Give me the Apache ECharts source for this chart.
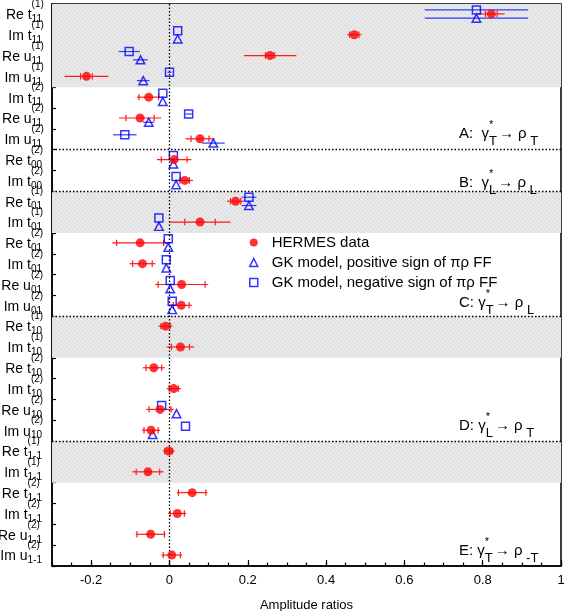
<!DOCTYPE html>
<html><head><meta charset="utf-8">
<script src="https://cdn.jsdelivr.net/npm/echarts@6/dist/echarts.min.js"></script>
<style>html,body{margin:0;padding:0;background:#fff}#c{width:568px;height:611px}</style>
</head><body><div id="c"></div>
<script>
// ---- row labels (top to bottom) ----
const rowMain = ['Re t','Im t','Re u','Im u','Im t','Re u','Im u','Re t','Im t','Re t','Im t','Re t','Im t','Re u','Im u','Re t','Im t','Re t','Im t','Re u','Im u','Re t','Im t','Re t','Im t','Re u','Im u'];
const rowSup  = ['(1)','(1)','(1)','(1)','(2)','(2)','(2)','(2)','(2)','(1)','(1)','(2)','(2)','(2)','(2)','(1)','(1)','(2)','(2)','(2)','(2)','(1)','(1)','(2)','(2)','(2)','(2)'];
const rowSub  = ['11','11','11','11','11','11','11','00','00','01','01','01','01','01','01','10','10','10','10','10','10','1-1','1-1','1-1','1-1','1-1','1-1'];
const categories = rowMain.map((m,i)=>m+rowSub[i]+rowSup[i]);

// ---- HERMES data: value, statistical error, total error ----
const hermesValue = [0.822,0.472,0.257,-0.212,-0.053,-0.075,0.078,0.012,0.039,0.169,0.078,-0.075,-0.069,0.031,0.030,-0.010,0.028,-0.040,0.011,-0.024,-0.047,-0.002,-0.055,0.058,0.020,-0.048,0.006];
const hermesStat  = [0.015,0.012,0.012,0.015,0.025,0.036,0.023,0.033,0.012,0.013,0.039,0.060,0.025,0.060,0.020,0.012,0.023,0.020,0.012,0.028,0.018,0.010,0.030,0.035,0.018,0.035,0.022];
const hermesTotal = [0.034,0.018,0.067,0.056,0.030,0.054,0.037,0.044,0.021,0.022,0.078,0.071,0.033,0.068,0.027,0.018,0.035,0.028,0.018,0.035,0.023,0.015,0.040,0.039,0.023,0.038,0.026];

// ---- GK model, positive sign of pi-rho FF ----
const gkPosValue = [0.784,0.021,-0.074,-0.067,-0.017,-0.053,0.112,0.010,0.017,0.203,-0.027,-0.003,-0.008,0.002,0.007,null,null,null,null,0.018,-0.043,null,null,null,null,null,null];
const gkPosError = [0.132,0,0.019,0.016,0,0.014,0.029,0,0,0.019,0,0,0,0,0,0,0,0,0,0,0,0,0,0,0,0,0];
// ---- GK model, negative sign of pi-rho FF ----
const gkNegValue = [0.784,0.021,-0.103,0.000,-0.017,0.049,-0.114,0.010,0.017,0.203,-0.027,-0.003,-0.008,0.002,0.007,null,null,null,null,-0.020,0.041,null,null,null,null,null,null];
const gkNegError = [0.132,0,0.027,0.005,0,0.008,0.030,0,0,0.019,0,0,0,0,0,0,0,0,0,0,0,0,0,0,0,0,0];

// ---- structure ----
const shadedRows = [[0,4],[9,11],[15,17],[21,23]];
const sectionBreaks = [7,9,15,21];
const xTicksMajor = [-0.2,0,0.2,0.4,0.6,0.8,1];

const FONT = 'Liberation Sans, Arial, Helvetica, sans-serif';
const NROWS = categories.length;
const GRID = {left:52, right:7, top:4, bottom:45};
const rowPx = (611 - GRID.top - GRID.bottom) / NROWS;
const OFF = {hermes:-0.5, pos:3.8, neg:-4.5}; // pixel offsets within a row

function yPos(i, off){ return i + 0.5 + off / rowPx; }

const hermesPts = hermesValue.map((v,i)=>[v, yPos(i,OFF.hermes)]);
const posPts = []; const negPts = [];
gkPosValue.forEach((v,i)=>{ if(v!==null) posPts.push([v, yPos(i,OFF.pos)]); });
gkNegValue.forEach((v,i)=>{ if(v!==null) negPts.push([v, yPos(i,OFF.neg)]); });

const hermesErr = hermesValue.map((v,i)=>[v, yPos(i,OFF.hermes), v-hermesTotal[i], v+hermesTotal[i], v-hermesStat[i], v+hermesStat[i]]);
const modelErr = [];
gkPosValue.forEach((v,i)=>{ if(v!==null && gkPosError[i]>0) modelErr.push([v, yPos(i,OFF.pos), v-gkPosError[i], v+gkPosError[i]]); });
gkNegValue.forEach((v,i)=>{ if(v!==null && gkNegError[i]>0) modelErr.push([v, yPos(i,OFF.neg), v-gkNegError[i], v+gkNegError[i]]); });

function errRender(color, ticks){
  return function(params, api){
    const y = api.value(1);
    const a = api.coord([api.value(2), y]);
    const b = api.coord([api.value(3), y]);
    const ch = [{type:'line', shape:{x1:a[0],y1:a[1],x2:b[0],y2:b[1]}, style:{stroke:color, lineWidth:1.2}}];
    if (ticks){
      [api.value(4), api.value(5)].forEach(sv=>{
        const s = api.coord([sv, y]);
        ch.push({type:'line', shape:{x1:s[0],y1:s[1]-3.2,x2:s[0],y2:s[1]+3.2}, style:{stroke:color, lineWidth:1.2}});
      });
    }
    return {type:'group', children:ch};
  };
}

// hatch pattern
const pc = document.createElement('canvas'); pc.width = 4; pc.height = 4;
const g = pc.getContext('2d');
g.fillStyle = '#e9e9e9'; g.fillRect(0,0,4,4);
g.fillStyle = '#dadada'; g.fillRect(0,0,1,1); g.fillRect(1,1,1,1); g.fillRect(2,2,1,1); g.fillRect(3,3,1,1);

function annot(letter, gap, from, to){
  return `{m|${letter}:${gap}γ}{sp|*}{sb|${from}}{m|→ ρ}{sb2| ${to}}`;
}
const annRich = {
  m:{fontSize:15, fontFamily:FONT, color:'#000', lineHeight:30, align:'left'},
  sp:{fontSize:11, fontFamily:FONT, color:'#000', width:0, height:12, verticalAlign:'top', align:'left'},
  sb:{fontSize:13, fontFamily:FONT, color:'#000', height:14, verticalAlign:'bottom', align:'left', padding:[0,2,0,0]},
  sb2:{fontSize:13, fontFamily:FONT, color:'#000', height:14, verticalAlign:'bottom', align:'left'}
};
const annotations = [
  {text:annot('A','  ','T','T'), top:119},
  {text:annot('B','  ','L','L'), top:168},
  {text:annot('C',' ','T','L'), top:288},
  {text:annot('D',' ','L','T'), top:411},
  {text:annot('E',' ','T','-T'), top:536}
];

const chart = echarts.init(document.getElementById('c'), null, {renderer:'canvas'});
chart.setOption({
  animation:false,
  backgroundColor:'#fff',
  textStyle:{fontFamily:FONT},
  grid:{left:GRID.left, right:GRID.right, top:GRID.top, bottom:GRID.bottom, show:true, borderColor:'#000', borderWidth:1.5, backgroundColor:'transparent', outerBoundsMode:'none', containLabel:false},
  xAxis:[{
    type:'value', min:-0.3, max:1, position:'bottom',
    axisLine:{show:true, onZero:false, lineStyle:{color:'#000', width:1.5}},
    axisTick:{show:true, inside:true, length:6, lineStyle:{color:'#000', width:1.2}, customValues:xTicksMajor},
    axisLabel:{customValues:xTicksMajor, color:'#000', fontSize:13, fontFamily:FONT, margin:8, showMinLabel:true, showMaxLabel:true},
    splitLine:{show:false},
    name:'Amplitude ratios', nameLocation:'middle', nameGap:33,
    nameTextStyle:{color:'#000', fontSize:13, fontFamily:FONT}
  },{
    type:'value', min:-0.3, max:1, interval:0.05, position:'bottom',
    axisLine:{show:false, onZero:false},
    axisTick:{show:true, inside:true, length:3.5, lineStyle:{color:'#000', width:1.2}},
    axisLabel:{show:false}, splitLine:{show:false}
  }],
  yAxis:[{
    type:'category', data:categories, inverse:true, position:'left', boundaryGap:true,
    axisLine:{show:true, onZero:false, lineStyle:{color:'#000', width:1.5}},
    axisTick:{show:true, inside:true, length:4, lineStyle:{color:'#000', width:1.2}},
    splitLine:{show:false},
    axisLabel:{
      interval:0, margin:10, color:'#000',
      formatter:(val, idx)=>`{m|${rowMain[idx]}}{sp|${rowSup[idx]}}{sb|${rowSub[idx]}}`,
      rich:{
        m:{fontSize:14, fontFamily:FONT, color:'#000', lineHeight:32, align:'left', padding:[2,0,0,0]},
        sp:{fontSize:10, fontFamily:FONT, color:'#000', width:0, height:12, verticalAlign:'top', align:'left'},
        sb:{fontSize:10, fontFamily:FONT, color:'#000', height:12, verticalAlign:'bottom', align:'left', padding:[0,0,5,0]}
      }
    }
  },{
    type:'value', min:0, max:NROWS, inverse:true, show:false, position:'left'
  }],
  legend:{
    orient:'vertical', left:244, top:229.5, itemWidth:8, itemHeight:8, itemGap:4,
    textStyle:{color:'#000', fontSize:15, fontFamily:FONT, lineHeight:16, padding:[0,0,0,9]},
    selectedMode:false,
    data:[
      {name:'HERMES data', icon:'circle', itemStyle:{color:'#ff0000'}},
      {name:'GK model, positive sign of πρ FF', icon:'triangle', itemStyle:{color:'rgba(0,0,0,0)', borderColor:'#0000ff', borderWidth:1.5}},
      {name:'GK model, negative sign of πρ FF', icon:'rect', itemStyle:{color:'rgba(0,0,0,0)', borderColor:'#0000ff', borderWidth:1.5}}
    ]
  },
  graphic: annotations.map(a=>({type:'text', left:459, top:a.top, z:10, style:{text:a.text, rich:annRich, fill:'#000', font:'15px '+FONT}})),
  series:[
    {type:'line', name:'shade', xAxisIndex:0, yAxisIndex:1, data:[], z:1, silent:true,
      markArea:{silent:true, itemStyle:{color:{image:pc, repeat:'repeat'}}, data:shadedRows.map(r=>[{yAxis:r[0]},{yAxis:r[1]}])}},
    {type:'line', name:'guides', xAxisIndex:0, yAxisIndex:1, data:[], z:2, silent:true,
      markLine:{silent:true, symbol:'none', label:{show:false}, lineStyle:{color:'#000', width:1.3, type:[1.5,2]},
        data:sectionBreaks.map(b=>({yAxis:b})).concat([{xAxis:0}])}},
    {type:'custom', name:'hermesErr', xAxisIndex:0, yAxisIndex:1, data:hermesErr, renderItem:errRender('#ff1a1a', true), z:3, silent:true, encode:{x:0, y:1}},
    {type:'custom', name:'modelErr', xAxisIndex:0, yAxisIndex:1, data:modelErr, renderItem:errRender('#2a3cff', false), z:3, silent:true, encode:{x:0, y:1}},
    {type:'scatter', name:'GK model, positive sign of πρ FF', xAxisIndex:0, yAxisIndex:1, data:posPts, symbol:'triangle', symbolSize:[8.5,8], z:4,
      itemStyle:{color:'rgba(0,0,0,0)', borderColor:'#0000ff', borderWidth:1.5}},
    {type:'scatter', name:'GK model, negative sign of πρ FF', xAxisIndex:0, yAxisIndex:1, data:negPts, symbol:'rect', symbolSize:8, z:4,
      itemStyle:{color:'rgba(0,0,0,0)', borderColor:'#0000ff', borderWidth:1.5}},
    {type:'scatter', name:'HERMES data', xAxisIndex:0, yAxisIndex:1, data:hermesPts, symbol:'circle', symbolSize:9, z:5,
      itemStyle:{color:'#ff0000'}}
  ]
});
</script>
</body></html>
